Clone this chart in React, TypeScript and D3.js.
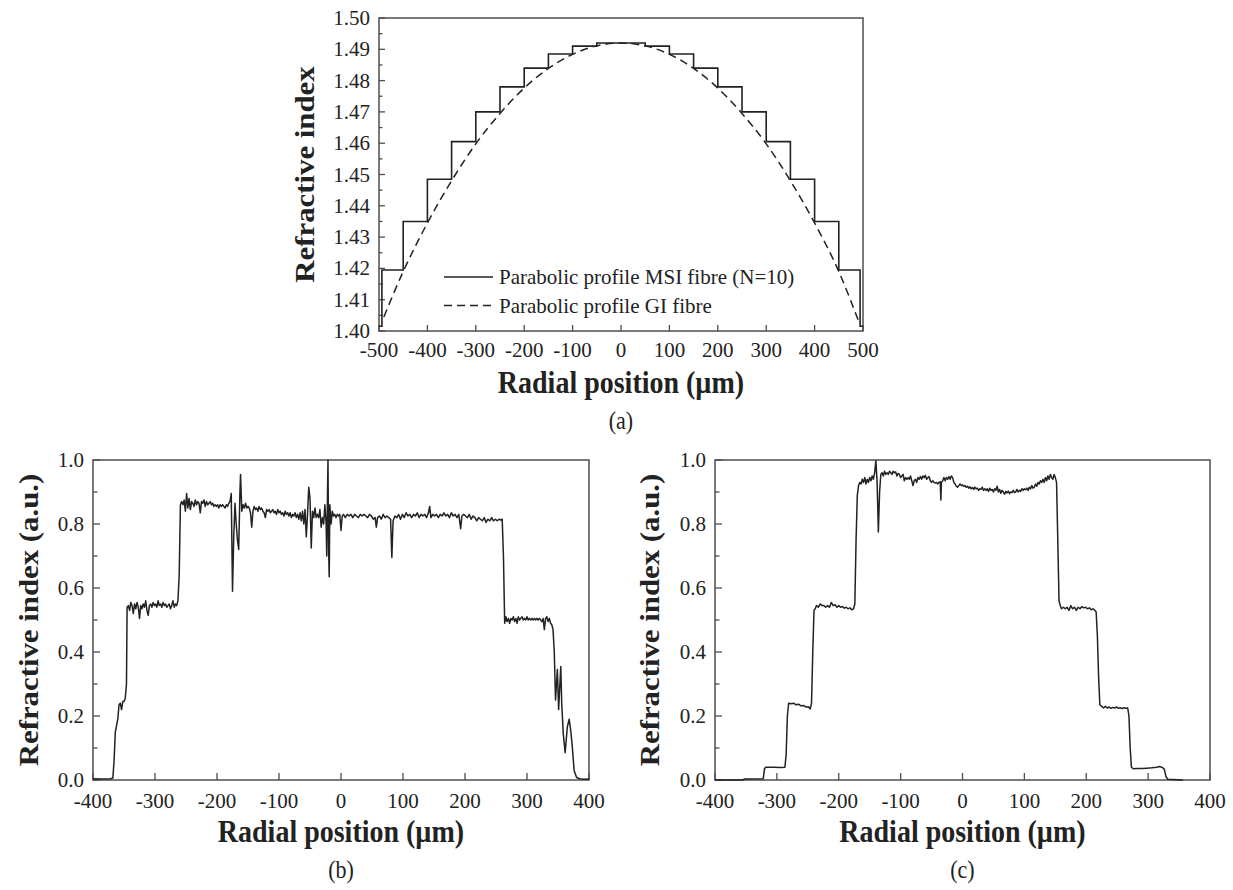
import React, { useEffect, useRef } from 'react';
import * as d3 from 'd3';

const FONT = '"Liberation Serif", "Times New Roman", serif';
const STRETCH = 1.1; // titles in the reference are slightly taller than wide

// (a) parabolic profile: multi-step fibre (N=10) and graded-index fibre
const msiPos = [-500, -494, -450, -400, -350, -300, -250, -200, -150, -100, -50, 50, 100, 150, 200, 250, 300, 350, 400, 450, 494, 500];
const msiIndex = [1.4015, 1.4195, 1.435, 1.4485, 1.4605, 1.47, 1.478, 1.484, 1.4885, 1.491, 1.492, 1.491, 1.4885, 1.484, 1.478, 1.47, 1.4605, 1.4485, 1.435, 1.4195, 1.4015, 1.4015];
const giPos = [-490, -450, -400, -350, -300, -250, -200, -150, -100, -50, 0, 50, 100, 150, 200, 250, 300, 350, 400, 450, 490];
const giIndex = [1.4045, 1.419, 1.4345, 1.448, 1.4598, 1.4695, 1.4776, 1.4839, 1.4884, 1.4911, 1.492, 1.4911, 1.4884, 1.4839, 1.4776, 1.4695, 1.4598, 1.448, 1.4345, 1.419, 1.4035];
const legendA = ['Parabolic profile MSI fibre (N=10)', 'Parabolic profile GI fibre'];

const ticksAX = [-500, -400, -300, -200, -100, 0, 100, 200, 300, 400, 500];
const ticksAY = [1.40, 1.41, 1.42, 1.43, 1.44, 1.45, 1.46, 1.47, 1.48, 1.49, 1.50];
const ticksBX = [-400, -300, -200, -100, 0, 100, 200, 300, 400];
const ticksBY = [0, 0.2, 0.4, 0.6, 0.8, 1.0];

// (b) measured profile, fibre 1
const profileB: [number, number][] = [
  [-400, 0.004], [-385, 0.003], [-372, 0.004], [-368, 0.006], [-366, 0.06], [-364, 0.15], [-362, 0.17], [-360, 0.19],
  [-358, 0.235], [-356, 0.24], [-354, 0.22], [-352, 0.245], [-350, 0.245], [-348, 0.255], [-346, 0.3], [-345, 0.54],
  [-343, 0.545], [-341, 0.53], [-339, 0.555], [-337, 0.545], [-335, 0.52], [-333, 0.55], [-331, 0.535], [-329, 0.555],
  [-327, 0.54], [-325, 0.505], [-323, 0.545], [-321, 0.535], [-319, 0.55], [-317, 0.54], [-315, 0.56], [-313, 0.53],
  [-311, 0.515], [-309, 0.545], [-307, 0.55], [-305, 0.54], [-303, 0.555], [-301, 0.545], [-299, 0.55], [-297, 0.54],
  [-295, 0.56], [-293, 0.545], [-291, 0.55], [-289, 0.54], [-287, 0.555], [-285, 0.545], [-283, 0.55], [-281, 0.54],
  [-279, 0.545], [-277, 0.55], [-275, 0.535], [-273, 0.545], [-271, 0.56], [-269, 0.54], [-267, 0.55], [-265, 0.545],
  [-263, 0.56], [-261, 0.64], [-259, 0.86], [-257, 0.87], [-255, 0.86], [-253, 0.875], [-251, 0.84], [-249, 0.895],
  [-247, 0.85], [-245, 0.88], [-243, 0.845], [-241, 0.87], [-239, 0.865], [-237, 0.855], [-235, 0.875], [-233, 0.86],
  [-231, 0.87], [-229, 0.865], [-227, 0.835], [-225, 0.87], [-223, 0.865], [-221, 0.875], [-219, 0.855], [-217, 0.87],
  [-215, 0.86], [-213, 0.865], [-211, 0.87], [-209, 0.86], [-207, 0.865], [-205, 0.855], [-203, 0.86], [-201, 0.855],
  [-199, 0.86], [-197, 0.85], [-195, 0.86], [-193, 0.855], [-191, 0.86], [-189, 0.855], [-187, 0.85], [-185, 0.86],
  [-183, 0.855], [-181, 0.865], [-179, 0.87], [-177, 0.895], [-175, 0.59], [-173, 0.76], [-171, 0.865], [-169, 0.8],
  [-167, 0.75], [-165, 0.72], [-163, 0.9], [-162, 0.955], [-160, 0.84], [-158, 0.86], [-156, 0.85], [-154, 0.865],
  [-152, 0.85], [-150, 0.855], [-148, 0.85], [-146, 0.835], [-144, 0.79], [-142, 0.84], [-140, 0.855], [-138, 0.845],
  [-136, 0.85], [-134, 0.84], [-132, 0.855], [-130, 0.845], [-128, 0.85], [-126, 0.84], [-124, 0.835], [-122, 0.82],
  [-120, 0.845], [-118, 0.84], [-116, 0.845], [-114, 0.835], [-112, 0.84], [-110, 0.845], [-108, 0.835], [-106, 0.84],
  [-104, 0.83], [-102, 0.845], [-100, 0.835], [-98, 0.84], [-96, 0.83], [-94, 0.835], [-92, 0.825], [-90, 0.84],
  [-88, 0.83], [-86, 0.835], [-84, 0.825], [-82, 0.835], [-80, 0.82], [-78, 0.83], [-76, 0.825], [-74, 0.835],
  [-72, 0.82], [-70, 0.83], [-68, 0.815], [-66, 0.835], [-64, 0.81], [-62, 0.84], [-60, 0.8], [-58, 0.845],
  [-56, 0.76], [-54, 0.83], [-52, 0.915], [-50, 0.88], [-48, 0.725], [-46, 0.84], [-44, 0.82], [-42, 0.85],
  [-40, 0.82], [-38, 0.83], [-36, 0.82], [-34, 0.845], [-32, 0.79], [-30, 0.82], [-28, 0.8], [-26, 0.86],
  [-24, 0.8], [-23, 0.7], [-22, 0.86], [-21, 1.0], [-20, 0.72], [-19, 0.635], [-18, 0.86], [-16, 0.8],
  [-14, 0.84], [-12, 0.825], [-10, 0.83], [-8, 0.82], [-6, 0.83], [-4, 0.825], [-2, 0.83], [0, 0.78],
  [2, 0.825], [4, 0.83], [7, 0.82], [10, 0.83], [13, 0.825], [16, 0.83], [19, 0.82], [22, 0.83],
  [25, 0.825], [28, 0.82], [31, 0.83], [34, 0.825], [37, 0.83], [40, 0.825], [43, 0.82], [46, 0.83],
  [49, 0.825], [52, 0.815], [55, 0.82], [57, 0.79], [59, 0.82], [62, 0.825], [65, 0.815], [68, 0.83],
  [71, 0.82], [74, 0.825], [77, 0.82], [80, 0.815], [82, 0.695], [84, 0.81], [87, 0.825], [90, 0.82],
  [93, 0.83], [96, 0.815], [99, 0.83], [102, 0.82], [105, 0.835], [108, 0.825], [111, 0.83], [114, 0.82],
  [117, 0.83], [120, 0.825], [123, 0.835], [126, 0.82], [129, 0.83], [132, 0.825], [135, 0.83], [138, 0.82],
  [141, 0.835], [143, 0.855], [145, 0.82], [148, 0.83], [151, 0.825], [154, 0.83], [157, 0.82], [160, 0.83],
  [163, 0.825], [166, 0.835], [169, 0.825], [172, 0.83], [175, 0.82], [178, 0.835], [181, 0.825], [184, 0.83],
  [187, 0.82], [190, 0.83], [193, 0.785], [195, 0.825], [198, 0.83], [201, 0.825], [204, 0.82], [207, 0.83],
  [210, 0.815], [213, 0.825], [216, 0.82], [219, 0.81], [222, 0.82], [225, 0.815], [228, 0.81], [231, 0.82],
  [234, 0.805], [237, 0.815], [240, 0.81], [243, 0.82], [246, 0.81], [249, 0.815], [252, 0.81], [255, 0.815],
  [258, 0.812], [260, 0.815], [262, 0.7], [264, 0.49], [266, 0.51], [268, 0.495], [270, 0.505], [272, 0.49],
  [274, 0.505], [276, 0.5], [278, 0.51], [280, 0.495], [282, 0.505], [284, 0.49], [286, 0.51], [288, 0.5],
  [290, 0.505], [292, 0.51], [294, 0.5], [296, 0.505], [298, 0.5], [300, 0.51], [302, 0.5], [304, 0.505],
  [306, 0.5], [308, 0.505], [310, 0.5], [312, 0.505], [314, 0.5], [316, 0.505], [318, 0.5], [320, 0.505],
  [322, 0.5], [324, 0.495], [326, 0.505], [328, 0.47], [330, 0.505], [332, 0.51], [334, 0.495], [336, 0.505],
  [338, 0.49], [340, 0.485], [342, 0.47], [344, 0.4], [346, 0.25], [349, 0.345], [351, 0.22], [354.5, 0.355],
  [356, 0.24], [358.5, 0.145], [361.5, 0.085], [365, 0.165], [368, 0.19], [370.5, 0.155], [373, 0.105], [376, 0.03],
  [380, 0.008], [385, 0.004], [392, 0.002], [400, 0.003]
];

// (c) measured profile, fibre 2
const profileC: [number, number][] = [
  [-400, 0], [-356, 0], [-352, 0.003], [-322, 0.004], [-320, 0.035], [-318, 0.04], [-305, 0.04], [-295, 0.039],
  [-287, 0.04], [-285, 0.08], [-283, 0.2], [-281, 0.24], [-277, 0.238], [-273, 0.24], [-269, 0.235], [-265, 0.237],
  [-261, 0.232], [-257, 0.233], [-253, 0.228], [-249, 0.229], [-246, 0.222], [-244, 0.24], [-242, 0.4], [-240, 0.53],
  [-238, 0.535], [-236, 0.545], [-233, 0.54], [-230, 0.55], [-227, 0.545], [-224, 0.545], [-221, 0.54], [-218, 0.545],
  [-215, 0.54], [-212, 0.555], [-209, 0.545], [-206, 0.548], [-203, 0.54], [-200, 0.545], [-197, 0.54], [-194, 0.542],
  [-191, 0.537], [-188, 0.54], [-185, 0.535], [-182, 0.538], [-179, 0.532], [-176, 0.535], [-174, 0.55], [-172, 0.75],
  [-170, 0.89], [-168, 0.92], [-166, 0.93], [-164, 0.925], [-162, 0.94], [-160, 0.93], [-158, 0.945], [-156, 0.925],
  [-154, 0.94], [-152, 0.93], [-150, 0.945], [-148, 0.935], [-146, 0.95], [-144, 0.94], [-142, 0.96], [-140, 0.998],
  [-138, 0.93], [-136, 0.775], [-134, 0.9], [-132, 0.955], [-130, 0.96], [-128, 0.95], [-126, 0.965], [-124, 0.955],
  [-122, 0.96], [-120, 0.955], [-118, 0.965], [-116, 0.96], [-114, 0.955], [-112, 0.965], [-110, 0.96], [-108, 0.963],
  [-106, 0.95], [-104, 0.958], [-102, 0.955], [-100, 0.945], [-98, 0.95], [-96, 0.955], [-94, 0.935], [-92, 0.945],
  [-90, 0.94], [-88, 0.945], [-86, 0.94], [-84, 0.95], [-82, 0.935], [-80, 0.92], [-78, 0.935], [-76, 0.94],
  [-74, 0.93], [-72, 0.945], [-70, 0.94], [-68, 0.948], [-66, 0.94], [-64, 0.95], [-62, 0.945], [-60, 0.952],
  [-58, 0.94], [-56, 0.945], [-54, 0.948], [-52, 0.935], [-50, 0.93], [-48, 0.935], [-46, 0.93], [-44, 0.928],
  [-42, 0.93], [-40, 0.925], [-38, 0.93], [-36, 0.932], [-35, 0.875], [-34, 0.93], [-32, 0.935], [-30, 0.945],
  [-28, 0.935], [-26, 0.945], [-24, 0.94], [-22, 0.948], [-20, 0.94], [-18, 0.95], [-16, 0.945], [-14, 0.93],
  [-12, 0.925], [-10, 0.918], [-8, 0.915], [-6, 0.92], [-4, 0.925], [-2, 0.92], [0, 0.922], [2, 0.918],
  [4, 0.92], [6, 0.915], [8, 0.918], [10, 0.912], [12, 0.916], [14, 0.91], [16, 0.914], [18, 0.908],
  [20, 0.915], [22, 0.91], [24, 0.912], [26, 0.905], [28, 0.91], [30, 0.908], [32, 0.915], [34, 0.905],
  [36, 0.91], [38, 0.905], [40, 0.91], [42, 0.902], [44, 0.912], [46, 0.905], [48, 0.908], [50, 0.9],
  [52, 0.91], [54, 0.905], [56, 0.918], [58, 0.9], [60, 0.908], [62, 0.896], [64, 0.905], [66, 0.9],
  [68, 0.893], [70, 0.902], [72, 0.897], [74, 0.903], [76, 0.895], [78, 0.9], [80, 0.898], [82, 0.905],
  [84, 0.898], [86, 0.9], [88, 0.908], [90, 0.9], [92, 0.905], [94, 0.902], [96, 0.91], [98, 0.905],
  [100, 0.91], [102, 0.907], [104, 0.912], [106, 0.905], [108, 0.915], [110, 0.91], [112, 0.92], [114, 0.912],
  [116, 0.915], [118, 0.925], [120, 0.918], [122, 0.93], [124, 0.925], [126, 0.935], [128, 0.93], [130, 0.94],
  [132, 0.93], [134, 0.945], [136, 0.935], [138, 0.95], [140, 0.94], [142, 0.955], [144, 0.945], [146, 0.94],
  [148, 0.955], [150, 0.945], [152, 0.93], [154, 0.75], [156, 0.56], [158, 0.545], [160, 0.535], [163, 0.54],
  [166, 0.535], [169, 0.54], [172, 0.53], [175, 0.545], [178, 0.535], [181, 0.54], [184, 0.53], [187, 0.54],
  [190, 0.535], [193, 0.542], [196, 0.538], [199, 0.54], [202, 0.535], [205, 0.538], [208, 0.532], [211, 0.535],
  [214, 0.53], [216, 0.525], [218, 0.45], [220, 0.32], [222, 0.235], [225, 0.23], [228, 0.225], [231, 0.23],
  [234, 0.225], [237, 0.228], [240, 0.224], [243, 0.227], [246, 0.225], [249, 0.228], [252, 0.224], [255, 0.226],
  [258, 0.223], [261, 0.226], [264, 0.224], [267, 0.225], [269, 0.2], [271, 0.1], [273, 0.04], [276, 0.035],
  [282, 0.036], [290, 0.036], [298, 0.037], [306, 0.038], [314, 0.04], [318, 0.042], [322, 0.04], [326, 0.035],
  [329, 0.01], [332, 0.002], [356, 0]
];

type Panel = {
  box: [number, number, number, number]; // x0, y0, x1, y1
  xDomain: [number, number];
  yDomain: [number, number];
  xTicks: number[];
  yTicks: number[];
  yMinorStep: number;
  yFormat: (v: number) => string;
  majorLen: number;
  minorLen: number;
  yTitle: string;
  yTitleX: number;
  caption: string;
  xLabelDy: number;
  xTitleDy: number;
  captionDy: number;
};

type G = d3.Selection<SVGGElement, unknown, null, undefined>;

// text placed at (x, y), optionally stretched vertically a little
function addText(g: G, x: number, y: number, str: string, size: number, anchor: string, bold = false, sy = 1) {
  return g.append('text')
    .attr('transform', `translate(${x},${y}) scale(1,${sy})`)
    .attr('text-anchor', anchor).attr('font-family', FONT).attr('font-size', size)
    .attr('font-weight', bold ? 'bold' : 'normal').attr('fill', '#222').text(str);
}

function drawFrame(svg: d3.Selection<SVGSVGElement, unknown, null, undefined>, p: Panel) {
  const [x0, y0, x1, y1] = p.box;
  const x = d3.scaleLinear().domain(p.xDomain).range([x0, x1]);
  const y = d3.scaleLinear().domain(p.yDomain).range([y1, y0]);
  const g = svg.append('g') as G;
  const axisColor = '#4d4d4d';

  g.append('rect').attr('x', x0).attr('y', y0).attr('width', x1 - x0).attr('height', y1 - y0)
    .attr('fill', 'none').attr('stroke', axisColor).attr('stroke-width', 1.5);

  // inward ticks, bottom + left only
  g.selectAll('line.xt').data(p.xTicks).enter().append('line')
    .attr('x1', d => x(d)).attr('x2', d => x(d)).attr('y1', y1).attr('y2', y1 - p.majorLen)
    .attr('stroke', axisColor).attr('stroke-width', 1.3);
  g.selectAll('line.yt').data(p.yTicks).enter().append('line')
    .attr('x1', x0).attr('x2', x0 + p.majorLen).attr('y1', d => y(d)).attr('y2', d => y(d))
    .attr('stroke', axisColor).attr('stroke-width', 1.3);
  const minors = p.yTicks.slice(0, -1).map(v => v + p.yMinorStep);
  g.selectAll('line.ym').data(minors).enter().append('line')
    .attr('x1', x0).attr('x2', x0 + p.minorLen).attr('y1', d => y(d)).attr('y2', d => y(d))
    .attr('stroke', axisColor).attr('stroke-width', 1.3);

  p.xTicks.forEach(d => addText(g, x(d), y1 + p.xLabelDy, String(d), 21, 'middle'));
  p.yTicks.forEach(d => addText(g, x0 - 9, y(d) + 7, p.yFormat(d), 21, 'end'));

  const cx = (x0 + x1) / 2;
  addText(g, cx, y1 + p.xTitleDy, 'Radial position (\u00b5m)', 28, 'middle', true, STRETCH);
  g.append('text').attr('transform', `translate(${p.yTitleX},${(y0 + y1) / 2}) rotate(-90) scale(${STRETCH},1)`)
    .attr('text-anchor', 'middle').attr('font-family', FONT).attr('font-size', 28).attr('font-weight', 'bold')
    .attr('fill', '#222').text(p.yTitle);
  addText(g, cx, y1 + p.captionDy, p.caption, 22, 'middle', false, STRETCH);

  return { x, y, g };
}

export default function App() {
  const ref = useRef<SVGSVGElement>(null);

  useEffect(() => {
    document.body.style.margin = '0';
    const el = ref.current;
    if (!el) return;
    const svg = d3.select(el);
    svg.selectAll('*').remove();

    // panel (a)
    const a = drawFrame(svg, {
      box: [379, 18, 863, 331], xDomain: [-500, 500], yDomain: [1.40, 1.50],
      xTicks: ticksAX, yTicks: ticksAY, yMinorStep: 0.005, yFormat: d3.format('.2f'),
      majorLen: 6, minorLen: 3.5, yTitle: 'Refractive index', yTitleX: 314, caption: '(a)',
      xLabelDy: 26, xTitleDy: 62, captionDy: 98
    });
    const msi = msiPos.map((v, i) => [v, msiIndex[i]] as [number, number]);
    const gi = giPos.map((v, i) => [v, giIndex[i]] as [number, number]);
    const stepLine = d3.line<[number, number]>().x(d => a.x(d[0])).y(d => a.y(d[1])).curve(d3.curveStepAfter);
    const smoothLine = d3.line<[number, number]>().x(d => a.x(d[0])).y(d => a.y(d[1])).curve(d3.curveMonotoneX);
    a.g.append('path').datum(gi).attr('d', smoothLine).attr('fill', 'none').attr('stroke', '#222')
      .attr('stroke-width', 1.5).attr('stroke-dasharray', '8,5');
    a.g.append('path').datum(msi).attr('d', stepLine).attr('fill', 'none').attr('stroke', '#222')
      .attr('stroke-width', 1.6);

    // legend
    legendA.forEach((label, i) => {
      const ly = 277 + i * 28.5;
      a.g.append('line').attr('x1', 444).attr('x2', 493).attr('y1', ly).attr('y2', ly)
        .attr('stroke', '#222').attr('stroke-width', 1.5).attr('stroke-dasharray', i === 1 ? '8,5' : null);
      addText(a.g, 499, ly + 7, label, 21, 'start');
    });

    const common = {
      xDomain: [-400, 400] as [number, number], yDomain: [0, 1] as [number, number],
      xTicks: ticksBX, yTicks: ticksBY, yMinorStep: 0.1, yFormat: d3.format('.1f'),
      majorLen: 7, minorLen: 4.5, yTitle: 'Refractive index (a.u.)',
      xLabelDy: 28, xTitleDy: 62, captionDy: 98
    };

    // panel (b)
    const b = drawFrame(svg, { ...common, box: [93, 460, 589, 780], yTitleX: 38, caption: '(b)' });
    const lineB = d3.line<[number, number]>().x(d => b.x(d[0])).y(d => b.y(d[1]));
    b.g.append('path').datum(profileB).attr('d', lineB).attr('fill', 'none').attr('stroke', '#222')
      .attr('stroke-width', 1.5).attr('stroke-linejoin', 'round');

    // panel (c)
    const c = drawFrame(svg, { ...common, box: [715, 460, 1210, 780], yTitleX: 659, caption: '(c)' });
    const lineC = d3.line<[number, number]>().x(d => c.x(d[0])).y(d => c.y(d[1]));
    c.g.append('path').datum(profileC).attr('d', lineC).attr('fill', 'none').attr('stroke', '#222')
      .attr('stroke-width', 1.5).attr('stroke-linejoin', 'round');
  }, []);

  return <svg ref={ref} width={1233} height={890} style={{ display: 'block', background: '#fff' }} />;
}
